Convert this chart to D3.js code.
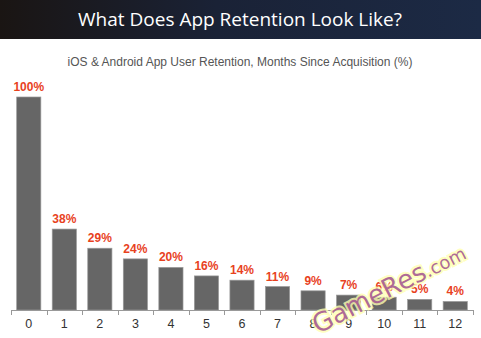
<!DOCTYPE html>
<html>
<head>
<meta charset="utf-8">
<script src="https://cdn.jsdelivr.net/npm/d3@7"></script>
<style>
  body { margin: 0; background: #fff; }
  svg { display: block; }
</style>
</head>
<body>
<script>
var months = ["0", "1", "2", "3", "4", "5", "6", "7", "8", "9", "10", "11", "12"];
var retention = [100, 38, 29, 24, 20, 16, 14, 11, 9, 7, 6, 5, 4];

var width = 481,
    height = 338;

var svg = d3.select("body").append("svg")
    .attr("width", width)
    .attr("height", height);

// banner
var grad = svg.append("defs").append("linearGradient")
    .attr("id", "banner");
grad.append("stop").attr("offset", "0%").attr("stop-color", "#1a1513");
grad.append("stop").attr("offset", "45%").attr("stop-color", "#1a2236");
grad.append("stop").attr("offset", "100%").attr("stop-color", "#1c2a45");

svg.append("rect")
    .attr("width", width)
    .attr("height", 39)
    .attr("fill", "url(#banner)");

svg.append("text")
    .attr("x", 240)
    .attr("y", 26)
    .attr("text-anchor", "middle")
    .attr("fill", "#fff")
    .style("font-family", "'Open Sans', 'DejaVu Sans', sans-serif")
    .style("font-size", "19px")
    .text("What Does App Retention Look Like?");

svg.append("text")
    .attr("x", 240)
    .attr("y", 66)
    .attr("text-anchor", "middle")
    .attr("fill", "#555")
    .style("font-family", "'Liberation Sans', Arial, sans-serif")
    .style("font-size", "12px")
    .text("iOS & Android App User Retention, Months Since Acquisition (%)");

// chart
var x = d3.scaleBand()
    .domain(months)
    .range([11, 473])
    .paddingInner(0.32)
    .paddingOuter(0.16);

var y = d3.scaleLinear()
    .domain([0, 100])
    .range([310, 97]);

svg.selectAll(".bar")
    .data(retention)
  .enter().append("rect")
    .attr("class", "bar")
    .attr("x", function(d, i) { return x(months[i]); })
    .attr("y", function(d) { return y(d); })
    .attr("width", x.bandwidth())
    .attr("height", function(d) { return y(0) - y(d); })
    .attr("fill", "#666")
    .attr("stroke", "#999")
    .attr("stroke-width", 0.7);

svg.selectAll(".label")
    .data(retention)
  .enter().append("text")
    .attr("class", "label")
    .attr("x", function(d, i) { return x(months[i]) + x.bandwidth() / 2; })
    .attr("y", function(d) { return y(d) - 6; })
    .attr("text-anchor", "middle")
    .attr("fill", "#e8421e")
    .style("font-family", "'Liberation Sans', Arial, sans-serif")
    .style("font-size", "12px")
    .style("font-weight", "bold")
    .text(function(d) { return d + "%"; });

// axis line + ticks between bands
var ticks = d3.range(months.length + 1).map(function(i) { return 11 + i * (462 / months.length); });

var ax = svg.append("g");
ax.append("line")
    .attr("x1", 11).attr("x2", 473)
    .attr("y1", 310.5).attr("y2", 310.5)
    .attr("stroke", "#999");
ax.selectAll(".tick")
    .data(ticks)
  .enter().append("line")
    .attr("x1", function(d) { return Math.round(d) + 0.5; })
    .attr("x2", function(d) { return Math.round(d) + 0.5; })
    .attr("y1", 310).attr("y2", 315)
    .attr("stroke", "#999");

ax.selectAll(".tlabel")
    .data(months)
  .enter().append("text")
    .attr("x", function(d) { return x(d) + x.bandwidth() / 2; })
    .attr("y", 328)
    .attr("text-anchor", "middle")
    .attr("fill", "#333")
    .style("font-family", "'Liberation Sans', Arial, sans-serif")
    .style("font-size", "12.5px")
    .text(function(d) { return d; });

// watermark
svg.append("text")
    .attr("transform", "translate(318,334) rotate(-27)")
    .attr("fill", "#a0508f")
    .attr("fill-opacity", 0.85)
    .attr("stroke", "#ffffb0")
    .attr("stroke-width", 4)
    .attr("stroke-opacity", 0.8)
    .style("paint-order", "stroke")
    .style("font-family", "'DejaVu Sans', sans-serif")
    .style("font-size", "26px")
    .text("GameRes")
  .append("tspan")
    .style("font-size", "18px")
    .text(".com");
</script>
</body>
</html>
